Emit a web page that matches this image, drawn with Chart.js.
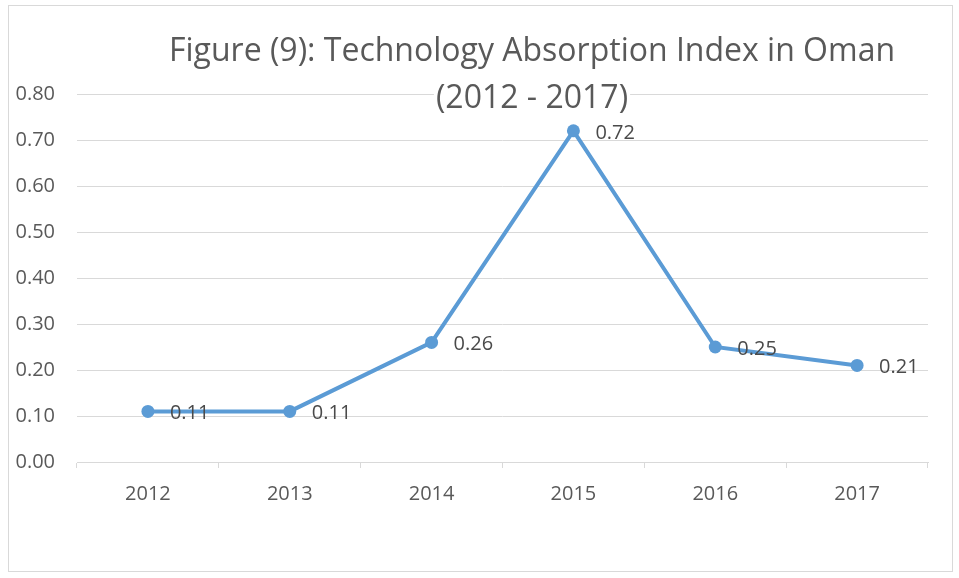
<!DOCTYPE html>
<html>
<head>
<meta charset="utf-8">
<title>Technology Absorption Index in Oman</title>
<script src="https://cdn.jsdelivr.net/npm/chart.js@4"></script>
<style>
  html, body { margin: 0; padding: 0; background: #fff; }
  #wrap { position: relative; width: 959px; height: 578px; overflow: hidden; }
  #frame {
    position: absolute; left: 8px; top: 5px; width: 945px; height: 567px;
    border: 1px solid #d9d9d9; box-sizing: border-box; pointer-events: none;
  }
  canvas { position: absolute; left: 0; top: 0; }
</style>
</head>
<body>
<div id="wrap">
  <canvas id="chart" width="959" height="578"></canvas>
  <div id="frame"></div>
</div>
<script>
// Data
const years = ['2012', '2013', '2014', '2015', '2016', '2017'];
const absorptionIndex = [0.11, 0.11, 0.26, 0.72, 0.25, 0.21];
const titleLines = ['Figure (9): Technology Absorption Index in Oman', '(2012 - 2017)'];

const TEXT_GRAY = '#595959';
const LINE_BLUE = '#5B9BD5';
const GRID_GRAY = '#d9d9d9';

Chart.defaults.font.family = "'Open Sans', sans-serif";
Chart.defaults.color = TEXT_GRAY;

// Title overlaid on the plot, with a white box behind each line (Excel style)
const overlayTitle = {
  id: 'overlayTitle',
  afterDraw(chart) {
    const ctx = chart.ctx;
    ctx.save();
    ctx.font = "32px 'Open Sans', sans-serif";
    ctx.textAlign = 'center';
    ctx.textBaseline = 'alphabetic';
    const cx = 532;
    const baselines = [61, 108];
    titleLines.forEach((line, i) => {
      const w = ctx.measureText(line).width;
      ctx.fillStyle = '#fff';
      ctx.fillRect(cx - w / 2 - 2, baselines[i] - 30, w + 4, 40);
      ctx.fillStyle = TEXT_GRAY;
      ctx.fillText(line, cx, baselines[i]);
    });
    ctx.restore();
  }
};

// Value labels to the right of each point
const pointLabels = {
  id: 'pointLabels',
  afterDatasetsDraw(chart) {
    const ctx = chart.ctx;
    const meta = chart.getDatasetMeta(0);
    ctx.save();
    ctx.font = "20px 'Open Sans', sans-serif";
    ctx.fillStyle = '#4a4a4a';
    ctx.textAlign = 'left';
    ctx.textBaseline = 'middle';
    meta.data.forEach((pt, i) => {
      ctx.fillText(absorptionIndex[i].toFixed(2), pt.x + 22, pt.y + 2);
    });
    ctx.restore();
  }
};

new Chart(document.getElementById('chart'), {
  type: 'line',
  data: {
    labels: years,
    datasets: [{
      data: absorptionIndex,
      borderColor: LINE_BLUE,
      backgroundColor: LINE_BLUE,
      borderWidth: 4,
      pointRadius: 6.5,
      pointBorderWidth: 0,
      pointBackgroundColor: LINE_BLUE,
      tension: 0,
      fill: false
    }]
  },
  options: {
    responsive: false,
    animation: false,
    devicePixelRatio: 1,
    layout: { padding: { top: 94, right: 31, bottom: 0, left: 0 } },
    plugins: {
      legend: { display: false },
      title: { display: false },
      tooltip: { enabled: false }
    },
    scales: {
      x: {
        offset: true,
        afterFit(scale) { scale.height = 116; },
        grid: {
          offset: true,
          drawOnChartArea: false,
          drawTicks: true,
          tickLength: 6,
          color: GRID_GRAY
        },
        border: { display: true, color: GRID_GRAY, width: 1 },
        ticks: { font: { size: 20 }, color: TEXT_GRAY, padding: 14 }
      },
      y: {
        min: 0,
        max: 0.8,
        afterFit(scale) { scale.width = 77; },
        grid: { color: GRID_GRAY, drawTicks: false, lineWidth: 1 },
        border: { display: false },
        ticks: {
          stepSize: 0.1,
          font: { size: 20 },
          color: TEXT_GRAY,
          padding: 22,
          callback: v => v.toFixed(2)
        }
      }
    }
  },
  plugins: [pointLabels, overlayTitle]
});
</script>
</body>
</html>
